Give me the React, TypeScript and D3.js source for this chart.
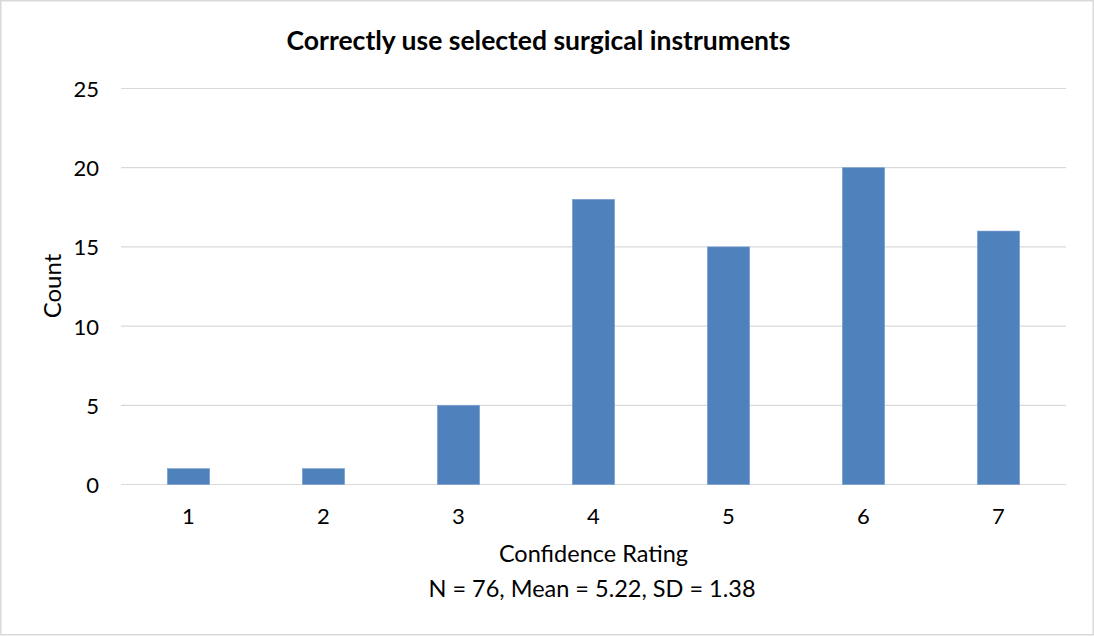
import React from "react";
import * as d3 from "d3";

const categories = ["1", "2", "3", "4", "5", "6", "7"];
const counts = [1, 1, 5, 18, 15, 20, 16];
const yTicks = [0, 5, 10, 15, 20, 25];
const title = "Correctly use selected surgical instruments";
const xTitle = "Confidence Rating";
const xSubtitle = "N = 76, Mean = 5.22, SD = 1.38";
const yTitle = "Count";

const W = 1094;
const H = 636;
const FONT = "Lato, 'Open Sans', sans-serif";

export default function App() {
  const left = 121, right = 1066, top = 88.5, bottom = 484.5;
  const x = d3.scaleBand<string>().domain(categories).range([left, right]).paddingInner(0.687).paddingOuter(0.3435);
  const y = d3.scaleLinear().domain([0, 25]).range([bottom, top]);
  return (
    <svg width={W} height={H} style={{ position: "absolute", left: 0, top: 0, background: "#fff" }} fontFamily={FONT}>
      <rect x={0.75} y={0.75} width={W - 1.5} height={H - 2} fill="#fff" stroke="#d9d9d9" strokeWidth={1.5} />
      {yTicks.map((t) => (
        <g key={t}>
          <line x1={left} x2={right} y1={y(t)} y2={y(t)} stroke="#d9d9d9" strokeWidth={1.2} />
          <text x={99} y={y(t)} textAnchor="end" dominantBaseline="central" fontSize={22} fill="#000">{t}</text>
        </g>
      ))}
      {categories.map((c, i) => (
        <g key={c}>
          <rect x={x(c)} y={y(counts[i])} width={x.bandwidth()} height={y(0) - y(counts[i])} fill="#4f81bd" stroke="#7a9fd0" strokeWidth={0.6} />
          <text x={(x(c) as number) + x.bandwidth() / 2} y={515} textAnchor="middle" dominantBaseline="central" fontSize={22} fill="#000">{c}</text>
        </g>
      ))}
      <text x={538.5} y={50} textAnchor="middle" fontSize={26.5} fontWeight="bold" fill="#000">{title}</text>
      <text x={593.5} y={562} textAnchor="middle" fontSize={23.5} fill="#000">{xTitle}</text>
      <text x={592} y={597} textAnchor="middle" fontSize={23.5} fill="#000">{xSubtitle}</text>
      <text transform={`translate(61,286) rotate(-90)`} textAnchor="middle" fontSize={24} fill="#000">{yTitle}</text>
    </svg>
  );
}
